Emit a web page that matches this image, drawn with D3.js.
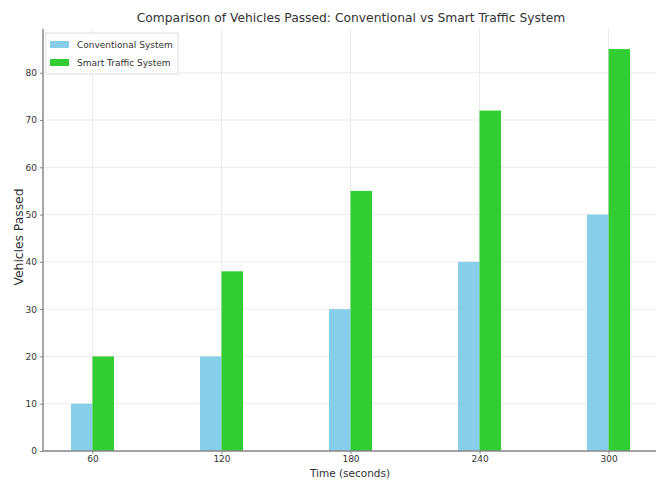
<!DOCTYPE html>
<html>
<head>
<meta charset="utf-8">
<script src="https://cdn.jsdelivr.net/npm/d3@7"></script>
<style>
  body { margin: 0; background: #fff; }
  text { font-family: "DejaVu Sans", sans-serif; fill: #333; }
</style>
</head>
<body>
<div id="root"></div>
<script>
// data
const times = [60, 120, 180, 240, 300];
const conventional = [10, 20, 30, 40, 50];
const smart = [20, 38, 55, 72, 85];
const yTicks = [0, 10, 20, 30, 40, 50, 60, 70, 80];
const seriesNames = ['Conventional System', 'Smart Traffic System'];
const colors = ['#87ceeb', '#32cd32'];

const w = 656, h = 484;
const plotLeft = 43, plotRight = 658, plotTop = 29, plotBottom = 451;

const svg = d3.select('#root').append('svg')
    .attr('width', w)
    .attr('height', h);

// scales
const x = d3.scaleLinear().domain([37, 323]).range([plotLeft, plotRight]);
const y = d3.scaleLinear().domain([0, 89.25]).range([plotBottom, plotTop]);
const barW = x(10) - x(0);

// grid
svg.append('g').selectAll('line')
    .data(yTicks)
    .enter().append('line')
    .attr('x1', plotLeft).attr('x2', plotRight)
    .attr('y1', d => y(d)).attr('y2', d => y(d))
    .attr('stroke', '#ebebeb').attr('stroke-width', 1);
svg.append('g').selectAll('line')
    .data(times)
    .enter().append('line')
    .attr('x1', d => x(d)).attr('x2', d => x(d))
    .attr('y1', plotTop).attr('y2', plotBottom)
    .attr('stroke', '#ebebeb').attr('stroke-width', 1);

// bars
svg.append('g').selectAll('rect')
    .data(conventional)
    .enter().append('rect')
    .attr('x', (d, i) => x(times[i]) - barW)
    .attr('y', d => y(d))
    .attr('width', barW)
    .attr('height', d => plotBottom - y(d))
    .attr('fill', colors[0]);
svg.append('g').selectAll('rect')
    .data(smart)
    .enter().append('rect')
    .attr('x', (d, i) => x(times[i]))
    .attr('y', d => y(d))
    .attr('width', barW)
    .attr('height', d => plotBottom - y(d))
    .attr('fill', colors[1]);

// axes
const xAxis = d3.axisBottom(x).tickValues(times).tickSize(3).tickPadding(2);
const yAxis = d3.axisLeft(y).tickValues(yTicks).tickSize(3).tickPadding(3);

const gx = svg.append('g')
    .attr('transform', `translate(0,${plotBottom})`)
    .call(xAxis);
const gy = svg.append('g')
    .attr('transform', `translate(${plotLeft},0)`)
    .call(yAxis);
[gx, gy].forEach(g => {
    g.select('.domain').attr('stroke', '#888').attr('stroke-width', 1.5);
    g.selectAll('.tick line').attr('stroke', '#888');
    g.selectAll('.tick text').attr('font-size', 9).attr('fill', '#444');
});
gx.select('.domain').attr('d', `M${plotLeft},0H${plotRight}`);
gy.select('.domain').attr('d', `M0,${plotBottom}V${plotTop}`);

// title and labels
svg.append('text')
    .attr('x', 351).attr('y', 22)
    .attr('text-anchor', 'middle')
    .attr('font-size', 12.3)
    .attr('fill', '#444')
    .text('Comparison of Vehicles Passed: Conventional vs Smart Traffic System');
svg.append('text')
    .attr('x', 350).attr('y', 477)
    .attr('text-anchor', 'middle')
    .attr('font-size', 10.5)
    .text('Time (seconds)');
svg.append('text')
    .attr('transform', 'translate(23,237) rotate(-90)')
    .attr('text-anchor', 'middle')
    .attr('font-size', 12.3)
    .text('Vehicles Passed');

// legend
const legend = svg.append('g').attr('transform', 'translate(46,33)');
legend.append('rect')
    .attr('width', 132).attr('height', 41)
    .attr('fill', '#fff').attr('fill-opacity', 0.85)
    .attr('stroke', '#ddd');
seriesNames.forEach((name, i) => {
    legend.append('rect')
        .attr('x', 4).attr('y', 8 + i * 18)
        .attr('width', 19).attr('height', 7)
        .attr('fill', colors[i]);
    legend.append('text')
        .attr('x', 31).attr('y', 15 + i * 18)
        .attr('font-size', 9)
        .text(name);
});
</script>
</body>
</html>
